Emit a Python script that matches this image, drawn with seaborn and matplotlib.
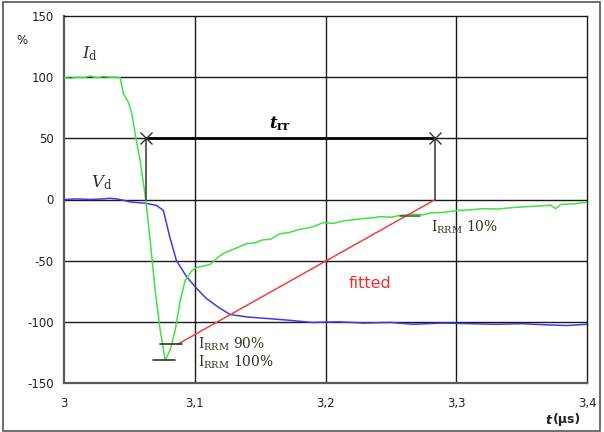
import numpy as np
import pandas as pd
import matplotlib
matplotlib.use("Agg")
import matplotlib.pyplot as plt
import seaborn as sns
from matplotlib.patches import Rectangle

# --- data ---
id_t = [3.000, 3.005, 3.010, 3.015, 3.020, 3.025, 3.030, 3.035, 3.040, 3.043,
        3.0454, 3.0493, 3.0519, 3.0544, 3.0582, 3.0608, 3.0626, 3.0659, 3.0697,
        3.0736, 3.0774, 3.0812, 3.085, 3.0889, 3.0927, 3.0979, 3.1017, 3.106,
        3.112, 3.118, 3.122, 3.131, 3.140, 3.146, 3.152, 3.158, 3.165, 3.172,
        3.180, 3.190, 3.198, 3.206, 3.214, 3.222, 3.229, 3.236, 3.242, 3.250,
        3.257, 3.267, 3.275, 3.280, 3.290, 3.301, 3.310, 3.320, 3.332, 3.344,
        3.352, 3.360, 3.368, 3.372, 3.376, 3.380, 3.390, 3.400]
id_v = [99.5, 99.0, 100.0, 99.5, 101.0, 99.5, 100.5, 100.0, 100.0, 99.5,
        86.5, 79.5, 70.0, 53.7, 31.9, 12.8, -0.8, -33.5, -74.0,
        -107.0, -131.5, -123.0, -107.0, -82.5, -66.0, -58.0, -55.5, -54.5,
        -53.0, -47.0, -44.0, -40.0, -36.0, -35.5, -33.0, -32.5, -28.0, -27.0,
        -24.5, -22.5, -19.0, -19.5, -17.5, -16.5, -15.5, -15.0, -14.0, -14.5,
        -13.0, -12.0, -12.5, -11.0, -10.5, -9.0, -8.5, -7.5, -7.8, -6.5,
        -6.0, -5.5, -5.0, -4.5, -7.5, -4.0, -3.5, -2.2]

vd_t = [3.000, 3.010, 3.020, 3.030, 3.035, 3.040, 3.045, 3.0506, 3.056, 3.062,
        3.067, 3.071, 3.076, 3.081, 3.086, 3.094, 3.1017, 3.109, 3.118, 3.127,
        3.140, 3.152, 3.170, 3.190, 3.210, 3.229, 3.250, 3.267, 3.290, 3.310,
        3.330, 3.350, 3.370, 3.385, 3.400]
vd_v = [0.0, 0.5, 0.0, 0.5, 1.0, 0.5, -0.5, -2.0, -2.5, -3.0,
        -4.0, -5.0, -9.0, -31.0, -50.0, -63.5, -73.0, -81.0, -88.0, -94.0,
        -96.0, -97.0, -98.5, -100.5, -100.0, -101.0, -100.5, -102.0, -101.0, -101.5,
        -102.0, -101.5, -102.5, -103.0, -102.0]

fit_t = [3.0874, 3.284]
fit_v = [-118.0, 0.0]

trr_t = [3.063, 3.284]
trr_v = [50.0, 50.0]

x_ticks = [3.0, 3.1, 3.2, 3.3, 3.4]
x_labels = ["3", "3,1", "3,2", "3,3", "3,4"]
y_ticks = [-150, -100, -50, 0, 50, 100, 150]

df_id = pd.DataFrame({"t": id_t, "v": id_v})
df_vd = pd.DataFrame({"t": vd_t, "v": vd_v})

sns.set_style("white")
plt.rcParams["font.family"] = ["DejaVu Sans"]
plt.rcParams["mathtext.fontset"] = "dejavuserif"
plt.rcParams["axes.unicode_minus"] = False

fig = plt.figure(figsize=(6.04, 4.32), dpi=100)
ax = fig.add_axes([64 / 604, 1 - 383 / 432, (587 - 64) / 604, (383 - 16) / 432])

# grid
for yv in [-100, -50, 0, 50, 100]:
    ax.axhline(yv, color="#1a1a1a", lw=1.0, zorder=1)
for xv in [3.1, 3.2, 3.3]:
    ax.axvline(xv, color="#1a1a1a", lw=1.0, zorder=1)

sns.lineplot(data=df_vd, x="t", y="v", ax=ax, color="#3c3ce6", lw=1.1, zorder=3)
sns.lineplot(data=df_id, x="t", y="v", ax=ax, color="#44e044", lw=1.1, zorder=4)
ax.plot(fit_t, fit_v, color="#f04040", lw=1.1, zorder=4)

# trr marker
ax.plot(trr_t, trr_v, color="black", lw=2.0, zorder=5)
ax.plot(trr_t, trr_v, ls="none", marker="x", ms=8, mew=1.0, color="#333333", zorder=6)
for tx in trr_t:
    ax.plot([tx, tx], [50, 0], color="#444444", lw=1.2, zorder=5)

# IRRM ticks
ax.plot([3.068, 3.085], [-131.5, -131.5], color="#333333", lw=1.2, zorder=6)
ax.plot([3.0735, 3.090], [-118, -118], color="#333333", lw=1.2, zorder=6)
ax.plot([3.257, 3.272], [-13.5, -13.5], color="#555555", lw=1.2, zorder=6)

ax.set_xlim(3.0, 3.4)
ax.set_ylim(-150, 150)
ax.set_xticks(x_ticks)
ax.set_xticklabels(x_labels)
ax.set_yticks(y_ticks)
ax.set_xlabel("")
ax.set_ylabel("")
ax.tick_params(axis="both", labelsize=8.5, colors="#222222")
ax.tick_params(axis="y", direction="inout", length=7, width=1.0, pad=4)
ax.tick_params(axis="x", direction="out", length=4, width=1.0, pad=6)

for side in ["top", "right"]:
    ax.spines[side].set_color("#1a1a1a")
    ax.spines[side].set_linewidth(1.0)
for side in ["left", "bottom"]:
    ax.spines[side].set_color("#5a5a5a")
    ax.spines[side].set_linewidth(1.6)

# annotations
tc = "#3a3222"
ax.text(3.014, 119, r"$I_\mathrm{d}$", fontsize=12, color=tc, ha="left", va="center")
ax.text(3.021, 14, r"$V_\mathrm{d}$", fontsize=12, color=tc, ha="left", va="center")
ax.text(3.1655, 62, r"$\mathbfit{t}_\mathbf{rr}$", fontsize=12, color="black",
        ha="center", va="center")
ax.text(3.234, -69, "fitted", fontsize=11.5, color="#f03030", ha="center", va="center")
ax.text(3.1025, -118, r"I$_\mathrm{RRM}$ 90%", fontsize=10, color=tc,
        family="DejaVu Serif", ha="left", va="center")
ax.text(3.1025, -133, r"I$_\mathrm{RRM}$ 100%", fontsize=10, color=tc,
        family="DejaVu Serif", ha="left", va="center")
ax.text(3.2805, -23, r"I$_\mathrm{RRM}$ 10%", fontsize=10, color=tc,
        family="DejaVu Serif", ha="left", va="center")

fig.text(16 / 604, 1 - 41 / 432, "%", fontsize=8.5, color="#222222", ha="left", va="center")
fig.text(551 / 604, 1 - 420 / 432, "t", fontsize=9, fontweight="bold", style="italic",
         color="#222222", ha="right", va="center")
fig.text(553 / 604, 1 - 420 / 432, "(µs)", fontsize=9, fontweight="bold",
         color="#222222", ha="left", va="center")

fig.patches.append(Rectangle((3 / 604, 1 / 432), 597 / 604, 429 / 432, transform=fig.transFigure,
                             fill=False, edgecolor="#555555", lw=1.2))

fig.savefig("out.png", dpi=100)
